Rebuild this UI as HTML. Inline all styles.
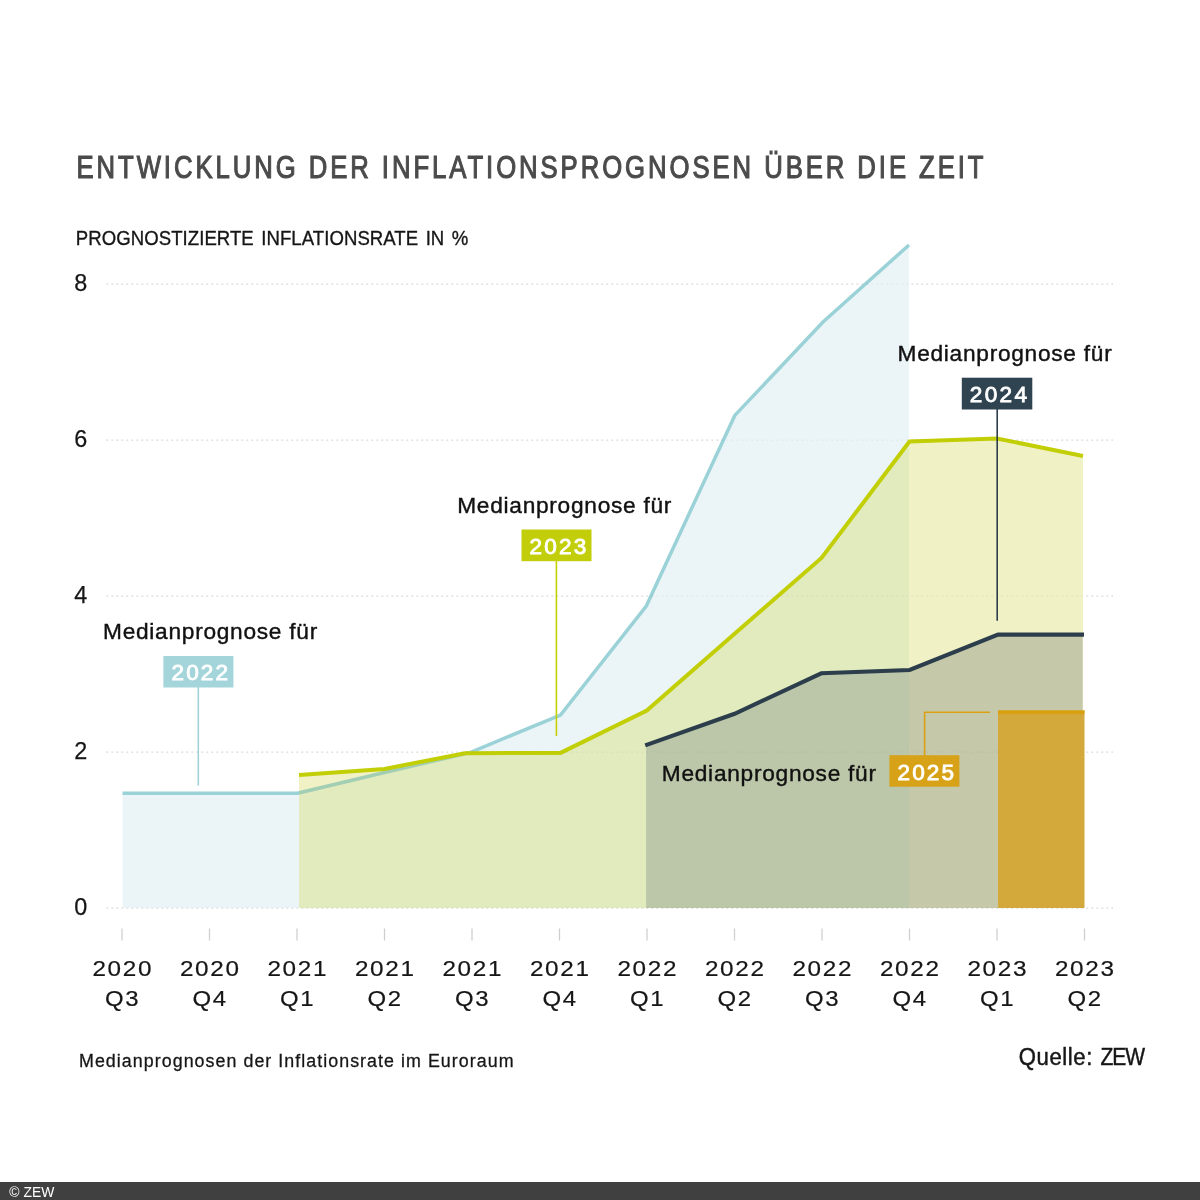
<!DOCTYPE html>
<html lang="de">
<head>
<meta charset="utf-8">
<title>Entwicklung der Inflationsprognosen über die Zeit</title>
<style>
html,body{margin:0;padding:0;background:#fff;}
body{width:1200px;height:1200px;overflow:hidden;font-family:"Liberation Sans",sans-serif;}
svg{display:block;}
text{font-family:"Liberation Sans",sans-serif;}
</style>
</head>
<body>
<svg width="1200" height="1200" viewBox="0 0 1200 1200">
<rect x="0" y="0" width="1200" height="1200" fill="#ffffff"/>
<text transform="translate(76.5,178.2) scale(0.84,1)" font-size="30.6" fill="#4b4b4b" stroke="#4b4b4b" stroke-width="1.1" textLength="1079.8" lengthAdjust="spacing">ENTWICKLUNG DER INFLATIONSPROGNOSEN ÜBER DIE ZEIT</text>
<text transform="translate(75.8,244.8) scale(0.885,1)" font-size="21" fill="#161616" stroke="#161616" stroke-width="0.35" textLength="443.5" lengthAdjust="spacing" word-spacing="2.5">PROGNOSTIZIERTE INFLATIONSRATE IN %</text>
<text transform="translate(74.2,914.5) scale(1.0,1)" font-size="23.4" fill="#161616" stroke="#161616" stroke-width="0.25">0</text>
<text transform="translate(74.2,758.5) scale(1.0,1)" font-size="23.4" fill="#161616" stroke="#161616" stroke-width="0.25">2</text>
<text transform="translate(74.2,602.5) scale(1.0,1)" font-size="23.4" fill="#161616" stroke="#161616" stroke-width="0.25">4</text>
<text transform="translate(74.2,446.5) scale(1.0,1)" font-size="23.4" fill="#161616" stroke="#161616" stroke-width="0.25">6</text>
<text transform="translate(74.2,290.5) scale(1.0,1)" font-size="23.4" fill="#161616" stroke="#161616" stroke-width="0.25">8</text>
<line x1="106.3" x2="1113" y1="908.2" y2="908.2" stroke="#000010" stroke-opacity="0.10" stroke-width="1.3" stroke-dasharray="2 3"/>
<line x1="106.3" x2="1113" y1="752.2" y2="752.2" stroke="#000010" stroke-opacity="0.10" stroke-width="1.3" stroke-dasharray="2 3"/>
<line x1="106.3" x2="1113" y1="596.2" y2="596.2" stroke="#000010" stroke-opacity="0.10" stroke-width="1.3" stroke-dasharray="2 3"/>
<line x1="106.3" x2="1113" y1="440.2" y2="440.2" stroke="#000010" stroke-opacity="0.10" stroke-width="1.3" stroke-dasharray="2 3"/>
<line x1="106.3" x2="1113" y1="284.2" y2="284.2" stroke="#000010" stroke-opacity="0.10" stroke-width="1.3" stroke-dasharray="2 3"/>
<defs><clipPath id="cy"><polygon points="299.0,775.1 384.5,768.9 465.0,753.2 560.5,752.9 646.8,710.6 734.3,634.0 821.5,558.0 909.5,441.5 997.0,438.5 1083.0,456.0 1083.0,908.0 299.0,908.0"/></clipPath><clipPath id="cd"><polygon points="646.3,745.0 734.6,713.8 821.3,673.3 909.6,670.0 998.0,634.6 1082.7,634.6 1082.7,908.0 646.3,908.0"/></clipPath></defs>
<polygon points="122.5,793.2 209.5,793.2 297.5,793.2 384.5,772.5 470.0,752.5 560.5,715.0 646.3,606.0 734.8,415.4 823.0,322.0 909.0,245.0 909.0,908.0 122.5,908.0" fill="#ebf5f8"/>
<polyline points="122.5,793.2 209.5,793.2 297.5,793.2 384.5,772.5 470.0,752.5 560.5,715.0 646.3,606.0 734.8,415.4 823.0,322.0 909.0,245.0" fill="none" stroke="#9bd2d7" stroke-width="3.5" stroke-linejoin="miter"/>
<polygon points="299.0,775.1 384.5,768.9 465.0,753.2 560.5,752.9 646.8,710.6 734.3,634.0 821.5,558.0 909.5,441.5 997.0,438.5 1083.0,456.0 1083.0,908.0 299.0,908.0" fill="#f1f1c6"/>
<g clip-path="url(#cy)"><polygon points="122.5,793.2 209.5,793.2 297.5,793.2 384.5,772.5 470.0,752.5 560.5,715.0 646.3,606.0 734.8,415.4 823.0,322.0 909.0,245.0 909.0,908.0 122.5,908.0" fill="#e2ebbe"/>
<polyline points="122.5,793.2 209.5,793.2 297.5,793.2 384.5,772.5 470.0,752.5 560.5,715.0 646.3,606.0 734.8,415.4 823.0,322.0 909.0,245.0" fill="none" stroke="#a2ceb4" stroke-width="3.5" stroke-linejoin="miter"/></g>
<polyline points="299.0,775.1 384.5,768.9 465.0,753.2 560.5,752.9 646.8,710.6 734.3,634.0 821.5,558.0 909.5,441.5 997.0,438.5 1083.0,456.0" fill="none" stroke="#c3cf06" stroke-width="4.0" stroke-linejoin="miter"/>
<polygon points="646.3,745.0 734.6,713.8 821.3,673.3 909.6,670.0 998.0,634.6 1082.7,634.6 1082.7,908.0 646.3,908.0" fill="#c5c9a9"/>
<g clip-path="url(#cd)"><polygon points="122.5,793.2 209.5,793.2 297.5,793.2 384.5,772.5 470.0,752.5 560.5,715.0 646.3,606.0 734.8,415.4 823.0,322.0 909.0,245.0 909.0,908.0 122.5,908.0" fill="#bcc7aa"/></g>
<polyline points="645.2,745.4 734.6,713.8 821.3,673.3 909.6,670.0 998.0,634.6 1084.0,634.6" fill="none" stroke="#2c3e4b" stroke-width="4.1" stroke-linejoin="miter"/>
<line x1="106.3" x2="1113" y1="908.2" y2="908.2" stroke="#000010" stroke-opacity="0.05" stroke-width="1.3" stroke-dasharray="2 3"/>
<line x1="106.3" x2="1113" y1="752.2" y2="752.2" stroke="#000010" stroke-opacity="0.05" stroke-width="1.3" stroke-dasharray="2 3"/>
<line x1="106.3" x2="1113" y1="596.2" y2="596.2" stroke="#000010" stroke-opacity="0.05" stroke-width="1.3" stroke-dasharray="2 3"/>
<line x1="106.3" x2="1113" y1="440.2" y2="440.2" stroke="#000010" stroke-opacity="0.05" stroke-width="1.3" stroke-dasharray="2 3"/>
<line x1="106.3" x2="1113" y1="284.2" y2="284.2" stroke="#000010" stroke-opacity="0.05" stroke-width="1.3" stroke-dasharray="2 3"/>
<rect x="998" y="710.4" width="86.5" height="197.6" fill="#d3a93c"/>
<rect x="998" y="710.4" width="86.5" height="3.7" fill="#d9a112"/>
<line x1="122.0" x2="122.0" y1="928.5" y2="940.5" stroke="#cfcfcf" stroke-width="1.3"/>
<text transform="translate(92.4,976.2) scale(1.13,1)" font-size="21.5" fill="#161616" stroke="#161616" stroke-width="0.2" textLength="52.4" lengthAdjust="spacing">2020</text>
<text transform="translate(105.1,1006.4) scale(1.05,1)" font-size="22.8" fill="#161616" stroke="#161616" stroke-width="0.2" textLength="31.8" lengthAdjust="spacing">Q3</text>
<line x1="209.5" x2="209.5" y1="928.5" y2="940.5" stroke="#cfcfcf" stroke-width="1.3"/>
<text transform="translate(179.9,976.2) scale(1.13,1)" font-size="21.5" fill="#161616" stroke="#161616" stroke-width="0.2" textLength="52.4" lengthAdjust="spacing">2020</text>
<text transform="translate(192.6,1006.4) scale(1.05,1)" font-size="22.8" fill="#161616" stroke="#161616" stroke-width="0.2" textLength="31.8" lengthAdjust="spacing">Q4</text>
<line x1="297.0" x2="297.0" y1="928.5" y2="940.5" stroke="#cfcfcf" stroke-width="1.3"/>
<text transform="translate(267.4,976.2) scale(1.13,1)" font-size="21.5" fill="#161616" stroke="#161616" stroke-width="0.2" textLength="52.4" lengthAdjust="spacing">2021</text>
<text transform="translate(280.1,1006.4) scale(1.05,1)" font-size="22.8" fill="#161616" stroke="#161616" stroke-width="0.2" textLength="31.8" lengthAdjust="spacing">Q1</text>
<line x1="384.5" x2="384.5" y1="928.5" y2="940.5" stroke="#cfcfcf" stroke-width="1.3"/>
<text transform="translate(354.9,976.2) scale(1.13,1)" font-size="21.5" fill="#161616" stroke="#161616" stroke-width="0.2" textLength="52.4" lengthAdjust="spacing">2021</text>
<text transform="translate(367.6,1006.4) scale(1.05,1)" font-size="22.8" fill="#161616" stroke="#161616" stroke-width="0.2" textLength="31.8" lengthAdjust="spacing">Q2</text>
<line x1="472.0" x2="472.0" y1="928.5" y2="940.5" stroke="#cfcfcf" stroke-width="1.3"/>
<text transform="translate(442.4,976.2) scale(1.13,1)" font-size="21.5" fill="#161616" stroke="#161616" stroke-width="0.2" textLength="52.4" lengthAdjust="spacing">2021</text>
<text transform="translate(455.1,1006.4) scale(1.05,1)" font-size="22.8" fill="#161616" stroke="#161616" stroke-width="0.2" textLength="31.8" lengthAdjust="spacing">Q3</text>
<line x1="559.5" x2="559.5" y1="928.5" y2="940.5" stroke="#cfcfcf" stroke-width="1.3"/>
<text transform="translate(529.9,976.2) scale(1.13,1)" font-size="21.5" fill="#161616" stroke="#161616" stroke-width="0.2" textLength="52.4" lengthAdjust="spacing">2021</text>
<text transform="translate(542.6,1006.4) scale(1.05,1)" font-size="22.8" fill="#161616" stroke="#161616" stroke-width="0.2" textLength="31.8" lengthAdjust="spacing">Q4</text>
<line x1="647.0" x2="647.0" y1="928.5" y2="940.5" stroke="#cfcfcf" stroke-width="1.3"/>
<text transform="translate(617.4,976.2) scale(1.13,1)" font-size="21.5" fill="#161616" stroke="#161616" stroke-width="0.2" textLength="52.4" lengthAdjust="spacing">2022</text>
<text transform="translate(630.1,1006.4) scale(1.05,1)" font-size="22.8" fill="#161616" stroke="#161616" stroke-width="0.2" textLength="31.8" lengthAdjust="spacing">Q1</text>
<line x1="734.5" x2="734.5" y1="928.5" y2="940.5" stroke="#cfcfcf" stroke-width="1.3"/>
<text transform="translate(704.9,976.2) scale(1.13,1)" font-size="21.5" fill="#161616" stroke="#161616" stroke-width="0.2" textLength="52.4" lengthAdjust="spacing">2022</text>
<text transform="translate(717.6,1006.4) scale(1.05,1)" font-size="22.8" fill="#161616" stroke="#161616" stroke-width="0.2" textLength="31.8" lengthAdjust="spacing">Q2</text>
<line x1="822.0" x2="822.0" y1="928.5" y2="940.5" stroke="#cfcfcf" stroke-width="1.3"/>
<text transform="translate(792.4,976.2) scale(1.13,1)" font-size="21.5" fill="#161616" stroke="#161616" stroke-width="0.2" textLength="52.4" lengthAdjust="spacing">2022</text>
<text transform="translate(805.1,1006.4) scale(1.05,1)" font-size="22.8" fill="#161616" stroke="#161616" stroke-width="0.2" textLength="31.8" lengthAdjust="spacing">Q3</text>
<line x1="909.5" x2="909.5" y1="928.5" y2="940.5" stroke="#cfcfcf" stroke-width="1.3"/>
<text transform="translate(879.9,976.2) scale(1.13,1)" font-size="21.5" fill="#161616" stroke="#161616" stroke-width="0.2" textLength="52.4" lengthAdjust="spacing">2022</text>
<text transform="translate(892.6,1006.4) scale(1.05,1)" font-size="22.8" fill="#161616" stroke="#161616" stroke-width="0.2" textLength="31.8" lengthAdjust="spacing">Q4</text>
<line x1="997.0" x2="997.0" y1="928.5" y2="940.5" stroke="#cfcfcf" stroke-width="1.3"/>
<text transform="translate(967.4,976.2) scale(1.13,1)" font-size="21.5" fill="#161616" stroke="#161616" stroke-width="0.2" textLength="52.4" lengthAdjust="spacing">2023</text>
<text transform="translate(980.1,1006.4) scale(1.05,1)" font-size="22.8" fill="#161616" stroke="#161616" stroke-width="0.2" textLength="31.8" lengthAdjust="spacing">Q1</text>
<line x1="1084.5" x2="1084.5" y1="928.5" y2="940.5" stroke="#cfcfcf" stroke-width="1.3"/>
<text transform="translate(1054.9,976.2) scale(1.13,1)" font-size="21.5" fill="#161616" stroke="#161616" stroke-width="0.2" textLength="52.4" lengthAdjust="spacing">2023</text>
<text transform="translate(1067.6,1006.4) scale(1.05,1)" font-size="22.8" fill="#161616" stroke="#161616" stroke-width="0.2" textLength="31.8" lengthAdjust="spacing">Q2</text>
<line x1="198.3" x2="198.3" y1="687" y2="785.5" stroke="#9fd3d9" stroke-width="1.6"/>
<line x1="556.4" x2="556.4" y1="560" y2="736" stroke="#c4d000" stroke-width="1.6"/>
<line x1="997.2" x2="997.2" y1="409" y2="620.7" stroke="#2c3e4b" stroke-width="1.6"/>
<polyline points="990,712.2 924.6,712.2 924.6,756" fill="none" stroke="#d9a112" stroke-width="1.6"/>
<rect x="163.4" y="656" width="70" height="31.5" fill="#a3d5da"/>
<text transform="translate(171.4,680.4) scale(1.0,1)" font-size="22.6" fill="#ffffff" stroke="#ffffff" stroke-width="0.85" textLength="56.8" lengthAdjust="spacing">2022</text>
<rect x="521.5" y="529.5" width="70" height="31.7" fill="#c3ce0a"/>
<text transform="translate(529.5,554.1) scale(1.0,1)" font-size="22.6" fill="#ffffff" stroke="#ffffff" stroke-width="0.85" textLength="56.8" lengthAdjust="spacing">2023</text>
<rect x="961.8" y="377.7" width="70.5" height="31.8" fill="#2f4450"/>
<text transform="translate(969.8,402.4) scale(1.0,1)" font-size="22.6" fill="#ffffff" stroke="#ffffff" stroke-width="0.85" textLength="57.3" lengthAdjust="spacing">2024</text>
<rect x="889.4" y="755.2" width="70" height="31.5" fill="#d7a118"/>
<text transform="translate(897.4,779.6) scale(1.0,1)" font-size="22.6" fill="#ffffff" stroke="#ffffff" stroke-width="0.85" textLength="56.8" lengthAdjust="spacing">2025</text>
<text transform="translate(103.0,638.9) scale(1.0,1)" font-size="22.7" fill="#111111" stroke="#111111" stroke-width="0.4" textLength="214.2" lengthAdjust="spacing">Medianprognose für</text>
<text transform="translate(457.2,512.7) scale(1.0,1)" font-size="22.7" fill="#111111" stroke="#111111" stroke-width="0.4" textLength="214.2" lengthAdjust="spacing">Medianprognose für</text>
<text transform="translate(897.5,360.8) scale(1.0,1)" font-size="22.7" fill="#111111" stroke="#111111" stroke-width="0.4" textLength="214.2" lengthAdjust="spacing">Medianprognose für</text>
<text transform="translate(661.8,781.0) scale(1.0,1)" font-size="22.7" fill="#111111" stroke="#111111" stroke-width="0.4" textLength="214.2" lengthAdjust="spacing">Medianprognose für</text>
<text transform="translate(79.0,1067.3) scale(0.95,1)" font-size="18.8" fill="#161616" stroke="#161616" stroke-width="0.3" textLength="457.4" lengthAdjust="spacing">Medianprognosen der Inflationsrate im Euroraum</text>
<text transform="translate(1018.8,1065.4) scale(0.95,1)" font-size="23.3" fill="#161616" stroke="#161616" stroke-width="0.45" textLength="77.4" lengthAdjust="spacing">Quelle:</text>
<text transform="translate(1100.5,1065.4) scale(0.9,1)" font-size="23.3" fill="#161616" stroke="#161616" stroke-width="0.45" textLength="49.4" lengthAdjust="spacing">ZEW</text>
<rect x="0" y="1182" width="1200" height="18" fill="#404040"/>
<text transform="translate(9.3,1196.7) scale(1.0,1)" font-size="13.9" fill="#ffffff">© ZEW</text>
</svg>
</body>
</html>
